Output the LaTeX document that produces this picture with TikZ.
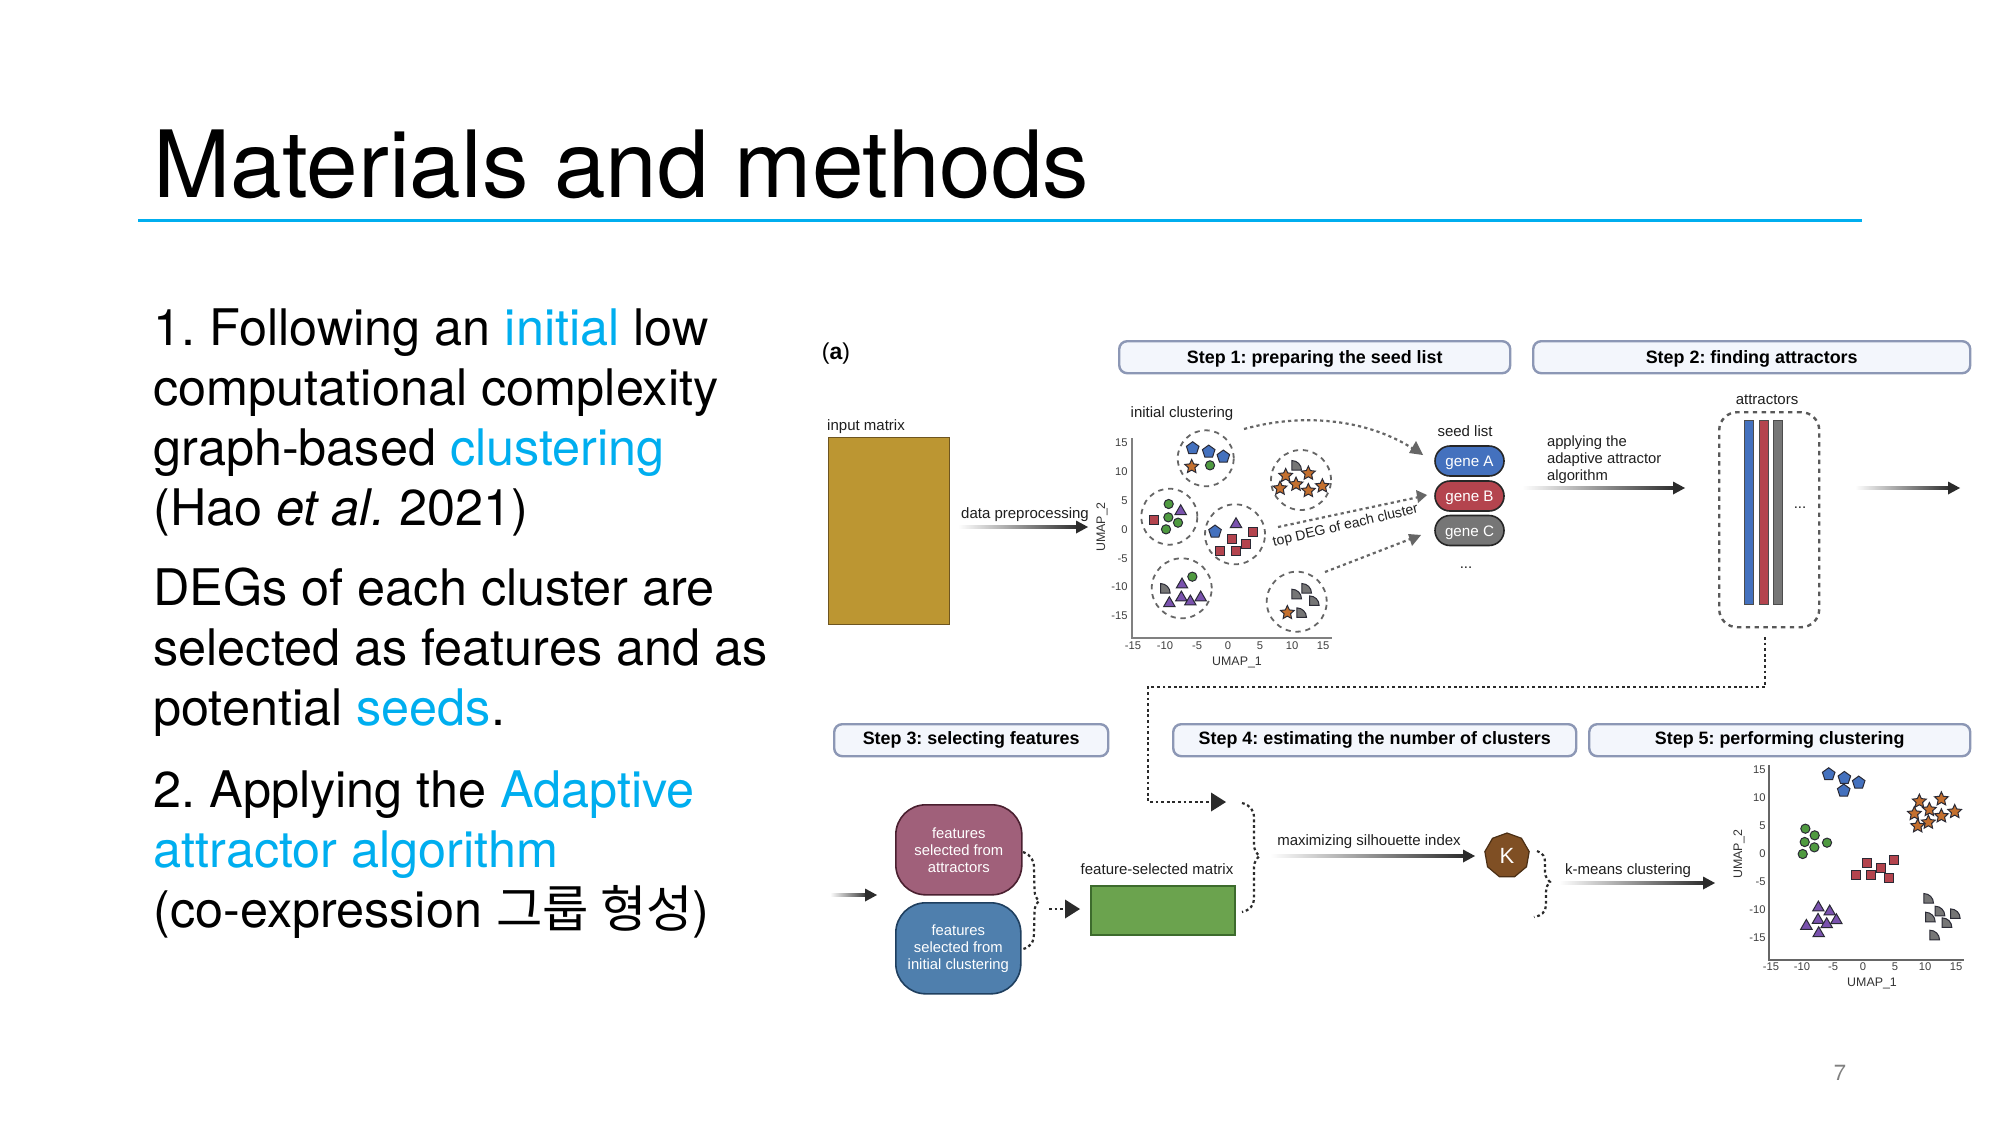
\documentclass[tikz,border=0pt]{standalone}
\usepackage{fontspec}
\setmainfont{TeX Gyre Heros}
\newfontfamily\cjk{Noto Sans CJK KR}
\newfontfamily\ins{Liberation Sans}
\usetikzlibrary{shapes.geometric,calc,arrows.meta}
\definecolor{cy}{HTML}{00AEEF}
\definecolor{adark}{HTML}{2B2B2B}
\definecolor{mblue}{HTML}{4471BE}
\definecolor{mred}{HTML}{B4444E}
\definecolor{morange}{HTML}{C4702F}
\definecolor{mgreen}{HTML}{4F9A40}
\definecolor{mpurple}{HTML}{7A52AE}
\definecolor{mgrey}{HTML}{767676}
\definecolor{mline}{HTML}{2A2A35}
\definecolor{stepline}{HTML}{8C97B5}
\definecolor{stepfill}{HTML}{F3F6FC}
\definecolor{inputc}{HTML}{BC9632}
\definecolor{inputl}{HTML}{6E5520}
\definecolor{mauvec}{HTML}{A0607A}
\definecolor{mauvel}{HTML}{4A2030}
\definecolor{fbluec}{HTML}{4F7FAD}
\definecolor{fbluel}{HTML}{1F3F5F}
\definecolor{greenc}{HTML}{6BA34E}
\definecolor{greenl}{HTML}{3D6B2D}
\definecolor{kc}{HTML}{7F4F24}
\definecolor{kl}{HTML}{4A2E14}
\tikzset{
 body/.style={anchor=base west,inner sep=0pt,font=\fontsize{25.2}{30}\selectfont},
 stepbox/.style={draw=stepline,fill=stepfill,line width=1.2pt,rounded corners=4pt,anchor=north west,inner sep=0pt,font=\ins\bfseries\fontsize{8.95}{11}\selectfont,text=black},
 lab/.style={inner sep=0pt,font=\ins\fontsize{7.5}{9}\selectfont,text=black!88},
 tick/.style={inner sep=0pt,font=\ins\fontsize{5.6}{7}\selectfont,text=black!75},
 axl/.style={inner sep=0pt,font=\ins\fontsize{6.2}{7}\selectfont,text=black!80},
 pill/.style={draw=black!85,line width=.8pt,rounded corners=7.5pt,minimum width=34.5pt,minimum height=15pt,inner sep=0pt,text=white,font=\ins\fontsize{7.6}{9}\selectfont},
 mk/.style={draw=mline,line width=.5pt,inner sep=0pt,outer sep=0pt},
 mpent/.style={mk,fill=mblue,regular polygon,regular polygon sides=5,minimum size=6.6pt},
 mstar/.style={mk,fill=morange,star,star points=5,star point ratio=2.1,minimum size=7.2pt},
 mcirc/.style={mk,fill=mgreen,circle,minimum size=4.6pt},
 mtri/.style={mk,fill=mpurple,regular polygon,regular polygon sides=3,minimum size=6.6pt},
 msq/.style={mk,fill=mred,rectangle,minimum size=4.4pt},
 clus/.style={draw=black!60,line width=.9pt,dash pattern=on 2.6pt off 2.4pt,circle,inner sep=0pt},
 dotl/.style={draw=adark,line width=1.1pt,dash pattern=on 1.4pt off 1.4pt},
 dasha/.style={draw=black!60,line width=1.1pt,dash pattern=on 1.6pt off 1.6pt},
 qtr/.pic={\draw[mk,fill=mgrey] (-2.4pt,-2.4pt) -- (-2.4pt,2.4pt) .. controls (0.25pt,2.4pt) and (2.4pt,0.25pt) .. (2.4pt,-2.4pt) -- cycle;}
}
\newcommand\gradarrow[2]{%
 \shade[left color=white,middle color=adark,right color=adark] ($(#1)+(0,-1.4)$) rectangle ($(#2)+(-8,1.4)$);
 \fill[adark] ($(#2)+(-12,-6.5)$) -- (#2) -- ($(#2)+(-12,6.5)$) -- cycle;}
\newcommand\mks[3]{\foreach \p [count=\i] in {#3} \node[#1] (#2\i) at \p {};}
\newcommand\lowr[2]{\raisebox{-#1}[0pt][0pt]{#2}}
\begin{document}
\frenchspacing
\begin{tikzpicture}[x=0.5pt,y=-0.5pt]
\useasboundingbox (0,0) rectangle (2000,1125);
\fill[white] (0,0) rectangle (2000,1125);
% title
\node[anchor=base west,inner sep=0pt,font=\fontsize{46.4}{56}\selectfont] (title) at (153,197) {Materials and methods};
\coordinate (tl) at (138,220); \coordinate (tr) at (1862,220);
\draw[cy,line width=1.5pt] (tl) -- (tr);
% body
\node[body] (b1) at (153,345) {1. Following an {\color{cy}initial} low};
\node[body] (b2) at (153,405) {computational complexity};
\node[body] (b3) at (153,465) {graph-based {\color{cy}clustering}};
\node[body] (b4) at (153,525) {(Hao \textit{et al.} 2021)};
\node[body] (b5) at (153,605) {DEGs of each cluster are};
\node[body] (b6) at (153,665) {selected as features and as};
\node[body] (b7) at (153,725) {potential {\color{cy}seeds}.};
\node[body] (b8) at (153,807) {2. Applying the {\color{cy}Adaptive}};
\node[body] (b9) at (153,867) {\color{cy}attractor algorithm};
\node[body] (b10) at (153,927) {(co-expression {\cjk 그룹 형성})};
\node[inner sep=0pt,text=black!50,font=\fontsize{11}{13}\selectfont] (pg) at (1840,1073) {7};
% inset
\node[inner sep=0pt,font=\ins\fontsize{11.5}{13}\selectfont] (a) at (836,354) {(\textbf{a})};
\node[stepbox,minimum width=195.5pt,minimum height=16pt] (s1) at (1118,340) {\lowr{2.9pt}{Step 1: preparing the seed list}};
\node[stepbox,minimum width=218.5pt,minimum height=16pt] (s2) at (1532,340) {\lowr{2.9pt}{Step 2: finding attractors}};
\node[stepbox,minimum width=137pt,minimum height=16pt] (s3) at (833,723) {\lowr{2.3pt}{Step 3: selecting features}};
\node[stepbox,minimum width=201.5pt,minimum height=16pt] (s4) at (1172,723) {\lowr{2.3pt}{Step 4: estimating the number of clusters}};
\node[stepbox,minimum width=190.5pt,minimum height=16pt] (s5) at (1588,723) {\lowr{2.3pt}{Step 5: performing clustering}};
% input
\node[lab] (il) at (866,427) {input matrix};
\node[draw=inputl,fill=inputc,line width=.7pt,anchor=north west,minimum width=60.3pt,minimum height=93.5pt,inner sep=0pt] (inp) at (828,437) {};
\node[lab] (dp) at (1025,514.5) {data preprocessing};
\coordinate (dp1) at (958,527); \coordinate (dp2) at (1088,527);
\gradarrow{dp1}{dp2}
% plot 1
\coordinate (o1) at (1132,638);\coordinate (t1) at (1132,438);\coordinate (r1) at (1332,638);
\draw[black!50,line width=.8pt] (t1) -- (o1) -- (r1);
\foreach \v/\yy in {15/443,10/472,5/501,0/530,-5/559,-10/587,-15/616} \node[tick,anchor=east] (ya\v) at (1128,\yy) {\v};
\foreach \v/\xx in {-15/1133,-10/1165,-5/1197,0/1228,5/1260,10/1292,15/1323} \node[tick] (xa\v) at (\xx,646) {\v};
\node[axl,rotate=90] (u2a) at (1102,527) {UMAP\_2};
\node[axl] (u1a) at (1237,662) {UMAP\_1};
\node[lab] (ic) at (1182,413.5) {initial clustering};
\node[clus,minimum size=28pt] (c1) at (1205.7,458.3) {};
\node[clus,minimum size=30pt] (c2) at (1301,480) {};
\node[clus,minimum size=28pt] (c3) at (1169.3,516.7) {};
\node[clus,minimum size=30pt] (c4) at (1235,534.3) {};
\node[clus,minimum size=30pt] (c5) at (1181.7,588.3) {};
\node[clus,minimum size=30pt] (c6) at (1296.7,601.7) {};
\begin{scope}[shift={(1090,420)},x=0.16667pt,y=-0.16667pt]
\mks{mpent}{pa}{(308,85),(356,95),(400,110),(375,335)}
\mks{mstar}{sa}{(305,140),(587,167),(655,160),(618,193),(570,205),(655,212),(697,198),(592,578)}
\mks{mcirc}{ca}{(360,136),(236,252),(235,292),(264,308),(228,328),(307,470)}
\mks{mtri}{ta}{(272,274),(438,313),(276,494),(274,533),(238,550),(301,545),(332,533)}
\mks{msq}{qa}{(193,300),(490,335),(425,357),(469,373),(391,393),(439,393)}
\foreach \p in {(620,136),(226,505),(650,505),(620,522),(673,542),(635,578)} \pic at \p {qtr};
\end{scope}
% seed list
\node[lab] (sl) at (1465,431.5) {seed list};
\node[pill,fill=mblue] (ga) at (1469.5,461) {\lowr{2.9pt}{gene A}};
\node[pill,fill=mred] (gb) at (1469.5,496) {\lowr{2.9pt}{gene B}};
\node[pill,fill=mgrey] (gc) at (1469.5,530.5) {\lowr{2.9pt}{gene C}};
\node[lab] (sd) at (1466,568) {...};
\coordinate (d1s) at (1244,429); \coordinate (d1e) at (1423,455);
\coordinate (d2s) at (1278,527); \coordinate (d2e) at (1427,495);
\coordinate (d3s) at (1325,572); \coordinate (d3e) at (1421,535);
\draw[dasha] (d1s) .. controls (1305,412) and (1370,420) .. ($(d1e)+(-8,-5)$);
\fill[black!60] (d1e) -- ++(-14,-2) -- ++(7,-12) -- cycle;
\draw[dasha] (d2s) -- ($(d2e)+(-8,2)$);
\fill[black!60] (d2e) -- ++(-11,-5) -- ++(2,13) -- cycle;
\draw[dasha] (d3s) -- ($(d3e)+(-8,3)$);
\fill[black!60] (d3e) -- ++(-13,-1) -- ++(4,12) -- cycle;
\node[lab,rotate=13,font=\ins\fontsize{7}{8}\selectfont] (td) at (1345.5,526) {top DEG of each cluster};
% step 2
\node[lab,anchor=west,align=left,font=\ins\fontsize{7.4}{8.5}\selectfont] (ap) at (1546.6,460) {applying the\\adaptive attractor\\algorithm};
\coordinate (ap1) at (1522,488); \coordinate (ap2) at (1685,488);
\gradarrow{ap1}{ap2}
\node[lab] (atl) at (1767,400) {attractors};
\node[draw=black!65,line width=1.2pt,dash pattern=on 2.2pt off 2.2pt,rounded corners=9pt,anchor=north west,minimum width=50pt,minimum height=107.5pt,inner sep=0pt] (atb) at (1718,411) {};
\foreach \nm/\xx/\cc in {ba/1744/mblue,bb/1758.5/mred,bc/1773/mgrey}
  \node[draw=black!70,line width=.5pt,fill=\cc,anchor=north west,minimum width=4.5pt,minimum height=92pt,inner sep=0pt] (\nm) at (\xx,420) {};
\node[lab] (ad) at (1800,508) {...};
\coordinate (out1) at (1855,488); \coordinate (out2) at (1960,488);
\gradarrow{out1}{out2}
\coordinate (dl1) at (1765,637); \coordinate (dl2) at (1765,687); \coordinate (dl3) at (1148,687); \coordinate (dl4) at (1148,802); \coordinate (dl5) at (1226,802);
\draw[dotl] (dl1) -- (dl2) -- (dl3) -- (dl4) -- ($(dl5)+(-12,0)$);
\fill[adark] ($(dl5)+(-15,-9.5)$) -- (dl5) -- ($(dl5)+(-15,9.5)$) -- cycle;
% step 3
\coordinate (in1) at (830,895); \coordinate (in2) at (877,895);
\gradarrow{in1}{in2}
\node[draw=mauvel,fill=mauvec,line width=.8pt,rounded corners=15pt,anchor=north west,minimum width=63pt,minimum height=45pt,inner sep=0pt,align=center,text=white,font=\ins\fontsize{7.4}{8.5}\selectfont] (f1) at (895,804) {features\\selected from\\attractors};
\node[draw=fbluel,fill=fbluec,line width=.8pt,rounded corners=15pt,anchor=north west,minimum width=62.5pt,minimum height=45.5pt,inner sep=0pt,align=center,text=white,font=\ins\fontsize{7.4}{8.5}\selectfont] (f2) at (895,902) {features\\selected from\\initial clustering};
\coordinate (b1s) at (1023,852); \coordinate (b1t) at (1039,901); \coordinate (b1e) at (1023,949);
\draw[dotl] (b1s) .. controls (1031,855) and (1034,860) .. (1034,868) -- (1034.5,890) .. controls (1034.5,896) and (1037,899) .. (b1t) .. controls (1037,903) and (1034.5,906) .. (1034.5,912) -- (1034,932) .. controls (1034,942) and (1031,947) .. (b1e);
\coordinate (sa1) at (1049,909); \coordinate (sa2) at (1080,909);
\draw[dotl] (sa1) -- ($(sa2)+(-14,0)$);
\fill[adark] ($(sa2)+(-15,-9.5)$) -- (sa2) -- ($(sa2)+(-15,9.5)$) -- cycle;
\node[lab] (fm) at (1157,869) {feature-selected matrix};
\node[draw=greenl,fill=greenc,line width=.8pt,anchor=north west,minimum width=72pt,minimum height=24.5pt,inner sep=0pt] (gm) at (1090,885) {};
\coordinate (b2s) at (1242,803); \coordinate (b2t) at (1259.5,856); \coordinate (b2e) at (1242,912);
\draw[dotl] (b2s) .. controls (1250,805) and (1254,810) .. (1254,818) -- (1254,845) .. controls (1254,850) and (1257,854) .. (b2t) .. controls (1257,858) and (1254,862) .. (1254,867) -- (1254,897) .. controls (1254,906) and (1250,910) .. (b2e);
% step 4
\node[lab] (ms) at (1369,842) {maximizing silhouette index};
\coordinate (ms1) at (1270,856); \coordinate (ms2) at (1475,856);
\gradarrow{ms1}{ms2}
\node[draw=kl,fill=kc,line width=.6pt,regular polygon,regular polygon sides=9,minimum size=22.5pt,inner sep=0pt,text=white,font=\ins\fontsize{11}{13}\selectfont] (k) at (1507,855.5) {K};
\coordinate (b3s) at (1537,851); \coordinate (b3t) at (1550,882); \coordinate (b3e) at (1534,917);
\draw[dotl] (b3s) .. controls (1543,853) and (1545,857) .. (1545,862) -- (1545,872) .. controls (1545,877) and (1548,880) .. (b3t) .. controls (1548,884) and (1546,887) .. (1546,892) -- (1546,905) .. controls (1546,912) and (1541,916) .. (b3e);
% step 5
\node[lab] (km) at (1628,871) {k-means clustering};
\coordinate (km1) at (1559,883); \coordinate (km2) at (1715,883);
\gradarrow{km1}{km2}
\coordinate (o2) at (1769,960);\coordinate (t2) at (1769,765);\coordinate (r2) at (1964,960);
\draw[black!60,line width=.7pt] (t2) -- (o2) -- (r2);
\foreach \v/\yy in {15/770,10/798,5/826,0/854,-5/882,-10/910,-15/938} \node[tick,anchor=east] (yb\v) at (1766,\yy) {\v};
\foreach \v/\xx in {-15/1771,-10/1802,-5/1833,0/1863,5/1895,10/1925,15/1956} \node[tick] (xb\v) at (\xx,967) {\v};
\node[axl,rotate=90] (u2b) at (1739,854) {UMAP\_2};
\node[axl] (u1b) at (1872,983) {UMAP\_1};
\begin{scope}[shift={(1500,720)},x=0.16667pt,y=-0.16667pt]
\mks{mpent}{pb}{(986,163),(1033,174),(1076,188),(1031,212)}
\mks{mstar}{sb}{(1258,244),(1324,237),(1288,269),(1243,281),(1364,275),(1324,288),(1285,307),(1253,318)}
\mks{mcirc}{cb}{(916,326),(944,346),(914,366),(981,368),(943,382),(908,402)}
\mks{msq}{qb}{(1100,430),(1183,420),(1144,444),(1067,464),(1114,464),(1166,474)}
\mks{mtri}{tb}{(955,563),(989,575),(954,600),(1009,601),(980,613),(919,618),(956,640)}
\foreach \p in {(1286,535),(1320,573),(1366,581),(1291,591),(1341,608),(1304,645)} \pic at \p {qtr};
\end{scope}
\end{tikzpicture}
\end{document}
